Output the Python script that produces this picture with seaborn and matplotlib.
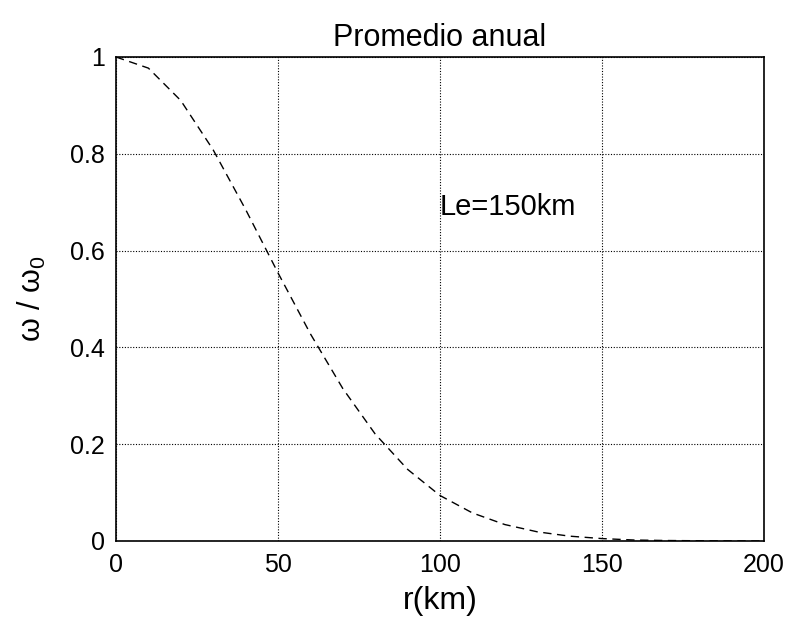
import matplotlib
matplotlib.use("Agg")
import matplotlib.pyplot as plt
import seaborn as sns
import pandas as pd

r_km = [0, 10, 20, 30, 40, 50, 60, 70, 80, 90, 100, 110, 120, 130, 140, 150, 160, 170, 180, 190, 200]
omega_ratio = [1.0, 0.977, 0.910, 0.808, 0.685, 0.554, 0.428, 0.315, 0.221, 0.148, 0.094,
               0.058, 0.034, 0.019, 0.010, 0.005, 0.002, 0.001, 0.0005, 0.0002, 0.0001]
x_ticks = [0, 50, 100, 150, 200]
y_ticks = [0, 0.2, 0.4, 0.6, 0.8, 1.0]
y_tick_labels = ["0", "0.2", "0.4", "0.6", "0.8", "1"]

sns.set_theme(style="whitegrid")
plt.rcParams['font.family'] = ['Liberation Sans', 'DejaVu Sans']
plt.rcParams['mathtext.fontset'] = 'custom'
plt.rcParams['mathtext.rm'] = 'Liberation Sans'

df = pd.DataFrame({"r": r_km, "w": omega_ratio})

fig = plt.figure(figsize=(7.89, 6.18), dpi=100)
ax = fig.add_axes([116/789, 1 - 541/618, (764-116)/789, (541-57)/618])

sns.lineplot(data=df, x="r", y="w", ax=ax, color="black", linewidth=1.0,
             linestyle=(0, (6, 4)))

ax.set_xlim(0, 200)
ax.set_ylim(0, 1)
ax.set_xticks(x_ticks)
ax.set_yticks(y_ticks)
ax.set_yticklabels(y_tick_labels)
ax.tick_params(axis="both", labelsize=18, colors="black", direction="in", length=5,
               width=1.0)
ax.tick_params(axis="y", pad=8)
ax.tick_params(axis="x", pad=9)
for s in ax.spines.values():
    s.set_color("black")
    s.set_linewidth(1.2)
ax.grid(True, color="black", linestyle=(0, (1, 1.5)), linewidth=0.8)
ax.set_facecolor("white")

ax.set_title("Promedio anual", fontsize=22, color="black", pad=8)
ax.set_xlabel("r(km)", fontsize=23, color="black", labelpad=6)
ax.set_ylabel(r"ω / ω$_\mathrm{0}$", fontsize=22, color="black", labelpad=16)
ax.text(100, 0.69, "Le=150km", fontsize=21, color="black", ha="left", va="center")

fig.savefig("out.png", dpi=100, facecolor="white")
